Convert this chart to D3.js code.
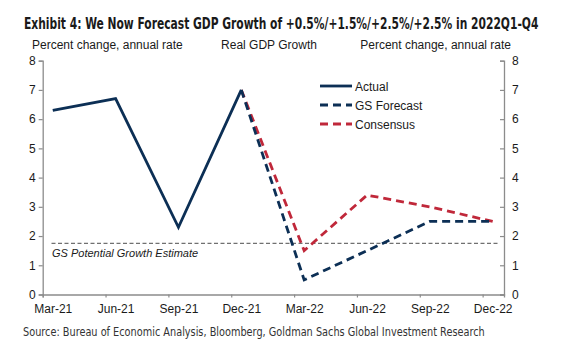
<!DOCTYPE html>
<html><head><meta charset="utf-8">
<script src="https://cdn.jsdelivr.net/npm/d3@7"></script>
<style>body{margin:0;background:#fff}svg{display:block}</style>
</head><body>
<script>
const categories = ["Mar-21","Jun-21","Sep-21","Dec-21","Mar-22","Jun-22","Sep-22","Dec-22"];
const actual = [6.3, 6.7, 2.3, 7.0, null, null, null, null];
const gsForecast = [null, null, null, 7.0, 0.5, 1.5, 2.5, 2.5];
const consensus = [null, null, null, 7.0, 1.5, 3.4, 3.0, 2.5];
const potentialGrowth = 1.75;
const yTicks = [0,1,2,3,4,5,6,7,8];

const W = 565, H = 352;
const svg = d3.select("body").append("svg").attr("width", W).attr("height", H);
const font = "Arial, 'Liberation Sans', sans-serif";
const narrow = "'Liberation Sans Narrow', 'DejaVu Sans Condensed', Arial, sans-serif";

// horizontally condense a text (placed at x0,y0) to a target width
function condense(sel, x0, y0, target) {
  const len = sel.node().getComputedTextLength();
  const k = len > 0 ? Math.min(1, target / len) : 1;
  sel.attr("x", 0).attr("y", 0)
    .attr("transform", `translate(${x0},${y0}) scale(${k.toFixed(4)},1)`);
}

const x = d3.scaleLinear().domain([-0.16, 7.18]).range([42.7, 504]);
const y = d3.scaleLinear().domain([0, 8]).range([294.5, 60.7]);

// title
const title = svg.append("text")
  .attr("font-family", narrow).attr("font-weight", "bold").attr("font-size", 15)
  .attr("fill", "#1a1a1a")
  .text("Exhibit 4: We Now Forecast GDP Growth of +0.5%/+1.5%/+2.5%/+2.5% in 2022Q1-Q4");
condense(title, 24, 28.5, 515);

// subtitles
const sub = svg.append("g").attr("font-family", font).attr("font-size", 12).attr("fill", "#1a1a1a");
sub.append("text").attr("x", 32).attr("y", 49).text("Percent change, annual rate");
sub.append("text").attr("x", 269).attr("y", 49).attr("text-anchor", "middle").text("Real GDP Growth");
sub.append("text").attr("x", 511).attr("y", 49).attr("text-anchor", "end").text("Percent change, annual rate");

// axes
const axisColor = "#8c8c8c";
const gl = svg.append("g").attr("transform", `translate(${x.range()[0]},0)`)
  .call(d3.axisLeft(y).tickValues(yTicks).tickSize(4).tickPadding(3).tickFormat(d3.format("d")));
const gr = svg.append("g").attr("transform", `translate(${x.range()[1]},0)`)
  .call(d3.axisRight(y).tickValues(yTicks).tickSize(-4).tickPadding(8).tickFormat(d3.format("d")));
const xTickVals = categories.map((c, i) => i - 0.16);
const gx = svg.append("g").attr("transform", `translate(0,${y(0)})`)
  .call(d3.axisBottom(x).tickValues(xTickVals).tickSize(3).tickFormat(""));
const gxl = svg.append("g").attr("transform", `translate(0,${y(0)})`)
  .call(d3.axisBottom(x).tickValues(categories.map((c, i) => i)).tickSize(0).tickPadding(10)
    .tickFormat(i => categories[i]));
gxl.select(".domain").remove();
[gl, gr, gx].forEach(g => {
  g.select(".domain").attr("stroke", axisColor).attr("stroke-width", 1.3);
  g.selectAll(".tick line").attr("stroke", axisColor).attr("stroke-width", 1.2);
});
[gl, gr, gxl].forEach(g => {
  g.selectAll("text").attr("font-family", font).attr("font-size", 12).attr("fill", "#1a1a1a");
});

// potential growth
svg.append("line").attr("x1", 51.5).attr("x2", 500)
  .attr("y1", y(potentialGrowth)).attr("y2", y(potentialGrowth))
  .attr("stroke", "#707070").attr("stroke-width", 1.1).attr("stroke-dasharray", "4,2.5");
svg.append("text").attr("x", 52).attr("y", 256.5)
  .attr("font-family", font).attr("font-style", "italic").attr("font-size", 11).attr("fill", "#1a1a1a")
  .text("GS Potential Growth Estimate");

const navy = "#0c2f55", red = "#c0283a";
const line = d3.line().defined(d => d != null).x((d, i) => x(i)).y(d => y(d));
function series(vals, color, dash) {
  svg.append("path").datum(vals).attr("d", line)
    .attr("fill", "none").attr("stroke", color).attr("stroke-width", 2.8)
    .attr("stroke-dasharray", dash).attr("stroke-linejoin", "miter");
}
series(consensus, red, "8,5");
series(gsForecast, navy, "8,5");
series(actual, navy, null);

// legend
const legend = [
  {name: "Actual", color: navy, dash: null},
  {name: "GS Forecast", color: navy, dash: "8,5"},
  {name: "Consensus", color: red, dash: "8,5"}
];
const lg = svg.append("g");
legend.forEach((l, i) => {
  const ly = 86 + i * 19;
  lg.append("line").attr("x1", 320).attr("x2", 352).attr("y1", ly).attr("y2", ly)
    .attr("stroke", l.color).attr("stroke-width", 2.8).attr("stroke-dasharray", l.dash);
  lg.append("text").attr("x", 355).attr("y", ly + 4.5)
    .attr("font-family", font).attr("font-size", 12).attr("fill", "#1a1a1a").text(l.name);
});

// source
const src = svg.append("text")
  .attr("font-family", narrow).attr("font-size", 12.5).attr("fill", "#333")
  .text("Source: Bureau of Economic Analysis, Bloomberg, Goldman Sachs Global Investment Research");
condense(src, 23, 336, 462);
</script>
</body></html>
